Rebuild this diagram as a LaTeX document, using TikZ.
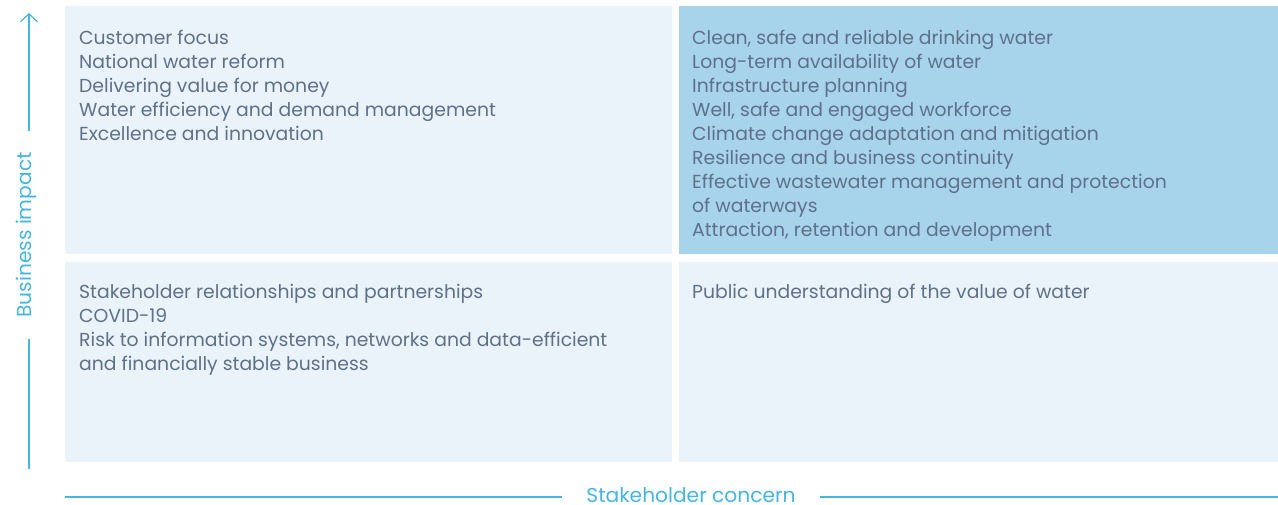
\documentclass[tikz,border=0pt]{standalone}
\usepackage{fontspec}
\setmainfont{Poppins}
\usetikzlibrary{arrows.meta}
\definecolor{panelpale}{HTML}{EAF3FA}
\definecolor{panelblue}{HTML}{A7D3EB}
\definecolor{itemtext}{HTML}{5E7189}
\definecolor{axisblue}{HTML}{45B5E1}
\tikzset{
  panel/.style={fill=panelpale, draw=none},
  hotpanel/.style={fill=panelblue, draw=none},
  item/.style={anchor=base west, inner sep=0pt, text=itemtext, font=\fontsize{18.8}{24}\selectfont},
  axislabel/.style={text=axisblue, font=\fontsize{20.2}{24}\selectfont, inner ysep=0pt},
  axisline/.style={draw=axisblue, line width=1.2pt},
}
\begin{document}
\begin{tikzpicture}[x=1pt,y=-1pt]
\useasboundingbox (0,0) rectangle (1278,504);

% quadrants
\fill[panel]    (65,6)   rectangle (672,254);
\fill[hotpanel] (679,6)  rectangle (1278,254);
\fill[panel]    (65,262) rectangle (672,462);
\fill[panel]    (679,262) rectangle (1278,462);

% top left
\node[item] (tl1) at (79,44)  {Customer focus};
\node[item] (tl2) at (79,68)  {National water reform};
\node[item] (tl3) at (79,92)  {Delivering value for money};
\node[item] (tl4) at (79,116) {Water efficiency and demand management};
\node[item] (tl5) at (79,140) {Excellence and innovation};

% top right
\node[item] (tr1) at (692,44)  {Clean, safe and reliable drinking water};
\node[item] (tr2) at (692,68)  {Long-term availability of water};
\node[item] (tr3) at (692,92)  {Infrastructure planning};
\node[item] (tr4) at (692,116) {Well, safe and engaged workforce};
\node[item] (tr5) at (692,140) {Climate change adaptation and mitigation};
\node[item] (tr6) at (692,164) {Resilience and business continuity};
\node[item] (tr7) at (692,188) {Effective wastewater management and protection};
\node[item] (tr8) at (692,212) {of waterways};
\node[item] (tr9) at (692,236) {Attraction, retention and development};

% bottom left
\node[item] (bl1) at (79,298) {Stakeholder relationships and partnerships};
\node[item] (bl2) at (79,322) {COVID-19};
\node[item] (bl3) at (79,346) {Risk to information systems, networks and data-efficient};
\node[item] (bl4) at (79,370) {and financially stable business};

% bottom right
\node[item] (br1) at (692,298) {Public understanding of the value of water};

% vertical axis
\coordinate (vtop) at (29,13);
\coordinate (vbot) at (29,469);
\node[axislabel, rotate=90, inner xsep=21pt] (bi) at (26,235) {Business impact};
\draw[axisline, -{Straight Barb[length=8pt, width=17pt]}] (bi.east -| vtop) -- (vtop);
\draw[axisline] (bi.west -| vbot) -- (vbot);

% horizontal axis
\coordinate (hleft) at (65,497);
\coordinate (hright) at (1278,497);
\node[axislabel, anchor=base, inner xsep=24pt] (sc) at (691,502) {Stakeholder concern};
\draw[axisline] (hleft) -- (hleft -| sc.west);
\draw[axisline] (hright -| sc.east) -- (hright);
\end{tikzpicture}
\end{document}
